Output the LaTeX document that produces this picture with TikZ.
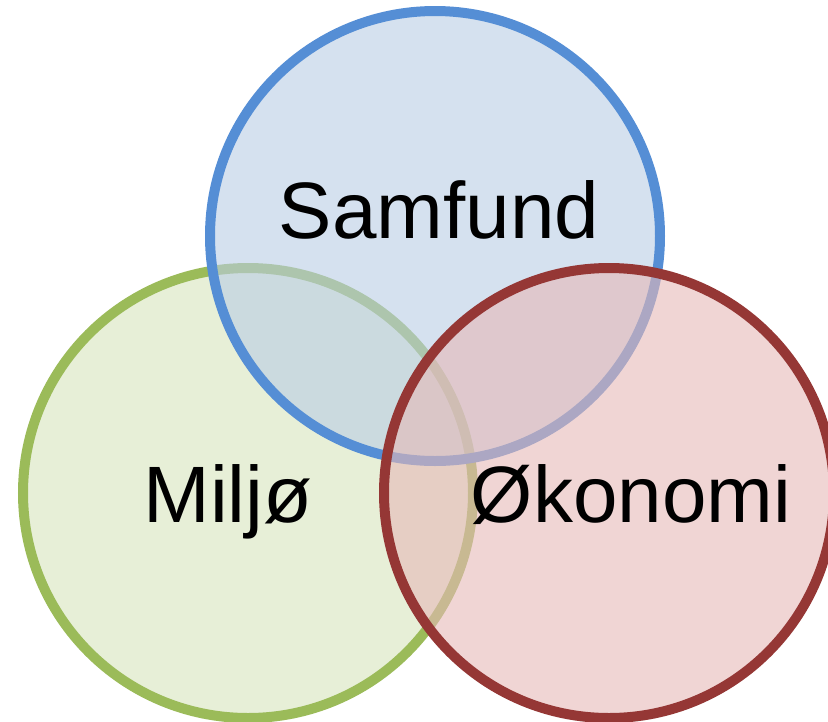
\documentclass[tikz,border=0pt]{standalone}
\usepackage{fontspec}
\setmainfont{Liberation Sans}
\definecolor{bluestroke}{HTML}{558ED5}
\definecolor{bluefill}{HTML}{B9CDE5}
\definecolor{greenstroke}{HTML}{9BBB59}
\definecolor{greenfill}{HTML}{D7E4BD}
\definecolor{redstroke}{HTML}{953735}
\definecolor{redfill}{HTML}{E6B9B8}
\tikzset{
  venn/.style={line width=10pt, fill opacity=0.6},
  lbl/.style={anchor=base, inner sep=0pt, font=\fontsize{80}{96}\selectfont}
}
\begin{document}
\begin{tikzpicture}[x=1pt,y=-1pt]
\useasboundingbox (0,0) rectangle (828,721);
\clip (0,0) rectangle (828,721);
\draw[venn, draw=greenstroke, fill=greenfill] (248,493) circle[radius=225];
\draw[venn, draw=bluestroke, fill=bluefill] (435,236) circle[radius=225];
\draw[venn, draw=redstroke, fill=redfill] (609,493) circle[radius=225];
\node[lbl] (samfund) at (439,238) {Samfund};
\node[lbl] (miljo) at (228,522) {Miljø};
\node[lbl] (okonomi) at (631,522) {Økonomi};
\end{tikzpicture}
\end{document}
